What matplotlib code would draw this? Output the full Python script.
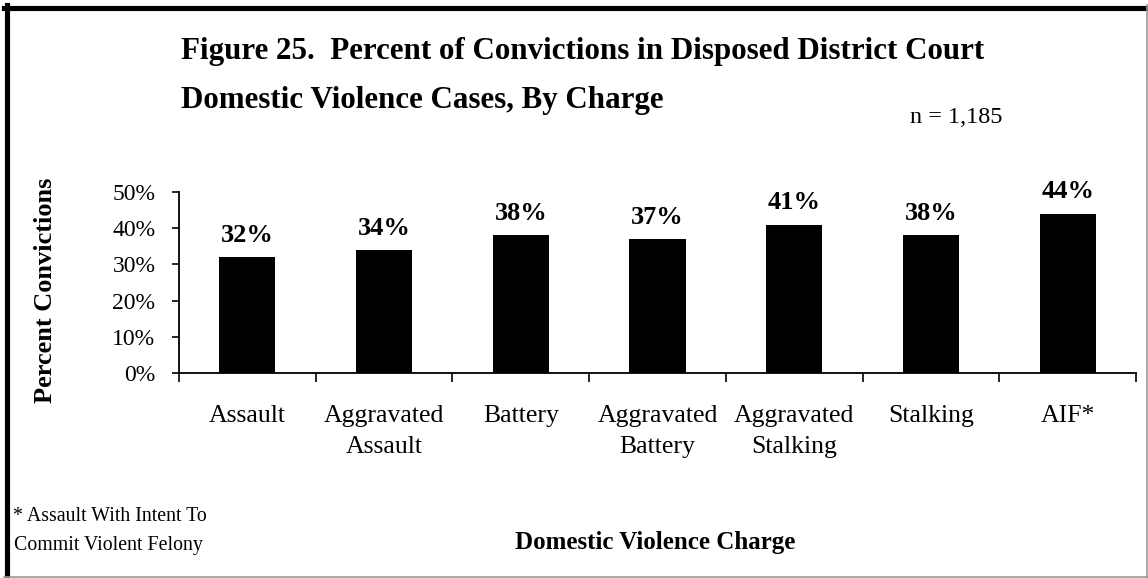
import numpy as np
import matplotlib
matplotlib.use("Agg")
import matplotlib.pyplot as plt
from matplotlib.lines import Line2D
from matplotlib.ticker import FixedLocator

# data
charges = ['Assault', 'Aggravated\nAssault', 'Battery', 'Aggravated\nBattery',
           'Aggravated\nStalking', 'Stalking', 'AIF*']
convictions = [32, 34, 38, 37, 41, 38, 44]
yticks = [0, 10, 20, 30, 40, 50]

plt.rcParams['font.family'] = ['Liberation Serif', 'DejaVu Serif']

W, H = 1148, 578
fig = plt.figure(figsize=(W / 100, H / 100), dpi=100)

def fx(px):
	return px / W

def fy(py):
	return 1 - py / H

ax = fig.add_axes([fx(179), fy(373), fx(1136) - fx(179), fy(192) - fy(373)])

x = np.arange(len(charges))
bars = ax.bar(x, convictions, width=0.41, color='black', zorder=3)

for xi, v in zip(x, convictions):
	ax.annotate('%d%%' % v, (xi, v), xytext=(0, 7.5), textcoords='offset points',
				ha='center', va='bottom', fontsize=19, fontweight='bold')

ax.set_xlim(-0.5, len(charges) - 0.5)
ax.set_ylim(0, 50)
ax.set_yticks(yticks)
ax.set_yticklabels(['%d%%' % t for t in yticks], fontsize=17)

# labels centred under bars, ticks between categories
ax.set_xticks(x)
ax.set_xticklabels(charges, fontsize=18.5, linespacing=1.55)
ax.xaxis.set_minor_locator(FixedLocator(np.arange(-0.5, len(charges), 1.0)))
ax.tick_params(axis='x', which='major', length=0, pad=23)
ax.tick_params(axis='x', which='minor', length=6.5, width=1.2, direction='out')
ax.tick_params(axis='y', length=5, width=1.2, direction='out', pad=12)

for s in ['top', 'right']:
	ax.spines[s].set_visible(False)
for s in ['left', 'bottom']:
	ax.spines[s].set_linewidth(1.3)

# titles and notes
fig.text(fx(181), fy(59), 'Figure 25.  Percent of Convictions in Disposed District Court',
		 fontsize=22.3, fontweight='bold', va='baseline', ha='left')
fig.text(fx(181), fy(108), 'Domestic Violence Cases, By Charge',
		 fontsize=22.3, fontweight='bold', va='baseline', ha='left')
fig.text(fx(910), fy(123), 'n = 1,185', fontsize=17.5, va='baseline', ha='left')

fig.text(fx(46), fy(290), 'Percent Convictions', rotation=90, fontsize=19,
		 fontweight='bold', ha='center', va='center')
fig.text(fx(655), fy(549), 'Domestic Violence Charge', fontsize=18,
		 fontweight='bold', ha='center', va='baseline')

fig.text(fx(13), fy(521), '* Assault With Intent To', fontsize=14.3, va='baseline', ha='left')
fig.text(fx(14), fy(550), 'Commit Violent Felony', fontsize=14.3, va='baseline', ha='left')

# frame around the figure
fig.add_artist(Line2D([fx(6.5), fx(6.5)], [fy(5), fy(578)], color='black', lw=3.7))
fig.add_artist(Line2D([fx(4), fx(1148)], [fy(7.5), fy(7.5)], color='black', lw=3.7))
fig.add_artist(Line2D([fx(4), fx(1148)], [fy(577), fy(577)], color='#999999', lw=1.2))
fig.add_artist(Line2D([fx(1146.5), fx(1146.5)], [fy(5), fy(578)], color='#999999', lw=1.2))

fig.savefig('out.png', dpi=100)
